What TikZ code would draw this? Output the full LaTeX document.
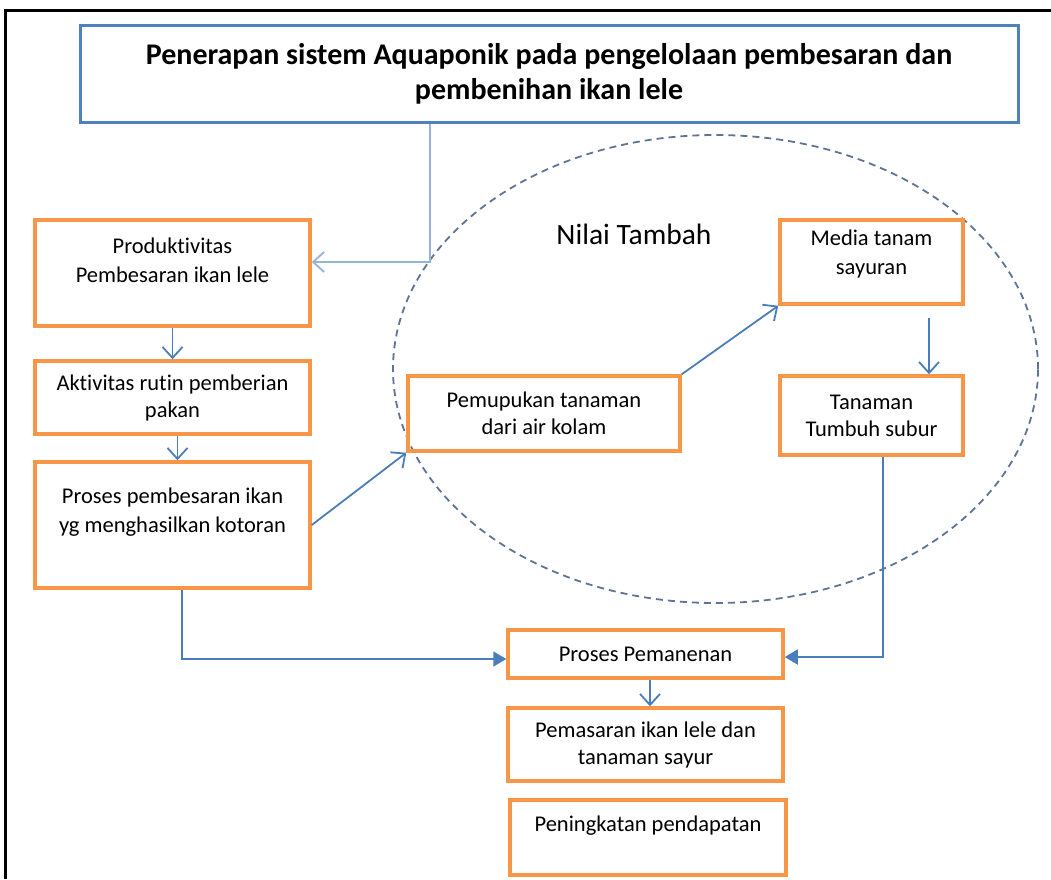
\documentclass[tikz,border=0pt]{standalone}
\usepackage{fontspec}
\setmainfont[Ligatures=NoCommon]{Carlito}
\usetikzlibrary{arrows.meta, shapes.geometric}

\definecolor{boxorange}{RGB}{247,150,70}
\definecolor{boxblue}{RGB}{79,129,189}
\definecolor{linkblue}{RGB}{74,126,187}
\definecolor{paleblue}{RGB}{149,179,215}
\definecolor{dashgray}{RGB}{95,115,150}

\begin{document}
\begin{tikzpicture}[
  x=1pt, y=-1pt,
  box/.style={draw=boxorange, line width=3.5pt, inner sep=0pt, align=center, font=\fontsize{22.5}{27}\selectfont},
  titlebox/.style={draw=boxblue, line width=3pt, inner sep=0pt, minimum width=938pt, minimum height=97pt, align=center, font=\bfseries\fontsize{30}{35}\selectfont},
  txt/.style={align=center, inner sep=0pt, font=\fontsize{22.5}{29}\selectfont},
  arrow/.style={draw=linkblue, line width=1.8pt, -{Straight Barb[length=11pt, width=20pt]}},
  arrowfill/.style={draw=linkblue, line width=1.8pt, -{Triangle[length=13pt, width=15pt]}}
]
\useasboundingbox (0,0) rectangle (1051,879);
\draw[line width=3pt] (1051,10) -- (5,10) -- (5,879);

% dashed area
\node[ellipse, draw=dashgray, line width=1.8pt, dash pattern=on 7pt off 5pt, minimum width=645pt, minimum height=468pt, inner sep=0pt] (tambah) at (715.5,369) {};
\node[font=\fontsize{29.5}{34}\selectfont] (tambah-t) at (634,234) {Nilai Tambah};

\node[titlebox] (title) at (549,73.5) {Penerapan sistem Aquaponik pada pengelolaan pembesaran dan\\pembenihan ikan lele};

% left column
\node[box, minimum width=275pt, minimum height=106pt] (prod) at (172.5,273) {};
\node[txt] (prod-t) at (172.5,260) {Produktivitas\\Pembesaran ikan lele};
\node[box, minimum width=275pt, minimum height=73pt] (aktiv) at (172.5,397.5) {Aktivitas rutin pemberian\\pakan};
\node[box, minimum width=275pt, minimum height=126pt] (proses) at (172.5,525) {};
\node[txt] (proses-t) at (172.5,512) {Proses pembesaran ikan\\yg menghasilkan kotoran};

% inside the ellipse
\node[box, minimum width=272pt, minimum height=75pt] (pupuk) at (544,413.5) {Pemupukan tanaman\\dari air kolam};
\node[box, minimum width=183pt, minimum height=84pt] (media) at (871.5,262) {};
\node[txt] (media-t) at (871.5,254) {Media tanam\\sayuran};
\node[box, minimum width=183pt, minimum height=79pt] (tanam) at (871.5,415.5) {Tanaman\\Tumbuh subur};

% bottom column
\node[box, minimum width=275pt, minimum height=48pt] (panen) at (645.5,654) {Proses Pemanenan};
\node[box, minimum width=275pt, minimum height=73pt] (pasar) at (645.5,744.5) {Pemasaran ikan lele dan\\tanaman sayur};
\node[box, minimum width=276pt, minimum height=75pt] (dapat) at (648,837.5) {};
\node[txt] (dapat-t) at (648,826) {Peningkatan pendapatan};

\coordinate (split) at (430,262);
\draw[arrow, draw=paleblue] (title.south -| split) -- (split) -- (prod.east |- split);
\draw[arrow] (prod) -- (aktiv);
\draw[arrow] ([xshift=5pt]aktiv.south) -- ([xshift=5pt]proses.north);
\draw[arrow] (proses.east) -- (pupuk.south west);
\draw[arrow] (pupuk.north east) -- (media.south west);
\draw[arrow] ([xshift=57.5pt, yshift=-12pt]media.south) -- ([xshift=57.5pt]tanam.north);
\draw[arrowfill] ([xshift=11.5pt]tanam.south) |- ([yshift=-3pt]panen.east);
\draw[arrowfill] ([xshift=9.5pt]proses.south) |- ([yshift=-5pt]panen.west);
\draw[arrow] ([xshift=4.5pt]panen.south) -- ([xshift=4.5pt]pasar.north);
\end{tikzpicture}
\end{document}
